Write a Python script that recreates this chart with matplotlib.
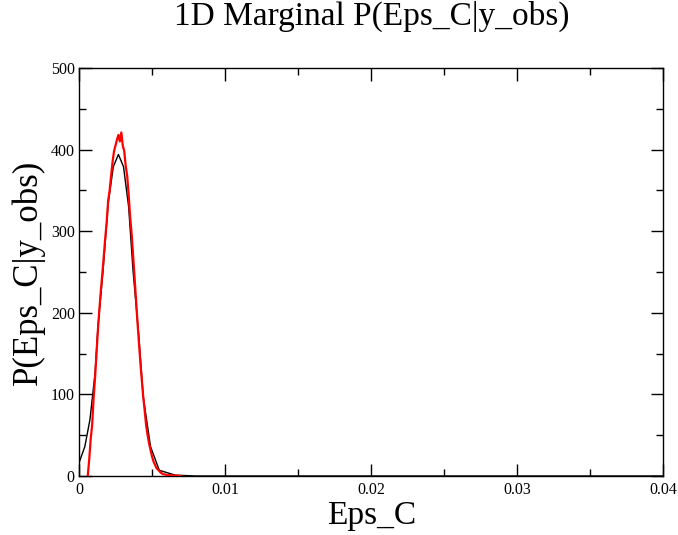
import matplotlib
matplotlib.use("Agg")
import matplotlib.pyplot as plt
from matplotlib.ticker import MultipleLocator

plt.rcParams['font.family'] = ['Liberation Serif', 'DejaVu Serif']

# sampled marginal (red histogram)
x_red = [0.0006, 0.0007, 0.0008, 0.0009, 0.0010, 0.0011, 0.0012, 0.0013, 0.0014,
         0.0015, 0.0016, 0.0017, 0.0018, 0.0019, 0.0020, 0.0021, 0.0022, 0.0023,
         0.0024, 0.0025, 0.0026, 0.0027, 0.0028, 0.0029, 0.0030, 0.0031, 0.0032,
         0.0033, 0.0034, 0.0035, 0.0036, 0.0037, 0.0038, 0.0039, 0.0040, 0.0041,
         0.0042, 0.0043, 0.0044, 0.0045, 0.0046, 0.0047, 0.0048, 0.0049, 0.0050,
         0.0051, 0.0052, 0.0053, 0.0054, 0.0055, 0.0056, 0.0057, 0.0058, 0.0059,
         0.0060, 0.0062, 0.0065, 0.0070]
y_red = [0, 20, 45, 62, 95, 120, 150, 180, 205,
         228, 248, 270, 292, 312, 338, 350, 368, 385,
         398, 405, 412, 418, 410, 421, 405, 398, 380,
         368, 345, 318, 298, 272, 245, 218, 190, 165,
         140, 118, 97, 80, 62, 50, 40, 32, 24,
         18, 14, 10, 8, 6, 4, 3, 2, 2,
         1, 1, 0.5, 0]

# smooth fit (black)
x_fit = [0.0, 0.0004, 0.00075, 0.0011, 0.0013, 0.00165, 0.0020, 0.00235, 0.0027,
         0.00305, 0.0034, 0.0037, 0.0041, 0.0044, 0.0049, 0.0055, 0.0066, 0.008, 0.04]
y_fit = [16, 36, 69, 126, 183, 252, 334, 379, 394,
         379, 330, 252, 171, 97, 36, 7, 1, 0, 0]

x_ticks = [0, 0.01, 0.02, 0.03, 0.04]
x_ticklabels = ['0', '0.01', '0.02', '0.03', '0.04']

fig = plt.figure(figsize=(6.78, 5.35), dpi=100)
ax = fig.add_axes([0.1165, 0.1103, 0.8614, 0.7626])

ax.plot(x_fit, y_fit, color='black', lw=1.0, zorder=2)
ax.plot(x_red, y_red, color='red', lw=1.6, zorder=3)

ax.set_xlim(0, 0.04)
ax.set_ylim(0, 500)
ax.set_xticks(x_ticks)
ax.set_xticklabels(x_ticklabels)
ax.xaxis.set_minor_locator(MultipleLocator(0.005))
ax.yaxis.set_major_locator(MultipleLocator(100))
ax.yaxis.set_minor_locator(MultipleLocator(50))

ax.tick_params(which='both', direction='in', top=True, right=True, labelsize=11.5, width=1)
ax.tick_params(which='major', length=9)
ax.tick_params(which='minor', length=5)
ax.tick_params(axis='x', pad=4)
ax.tick_params(axis='y', pad=3)
for s in ax.spines.values():
    s.set_linewidth(1.0)

fig.text(0.549, 0.953, '1D Marginal P(Eps_C|y_obs)', ha='center', va='baseline', fontsize=24)
fig.text(0.548, 0.021, 'Eps_C', ha='center', va='baseline', fontsize=24)
fig.text(0.041, 0.491, 'P(Eps_C|y_obs)', ha='center', va='center', rotation=90, fontsize=25)

fig.savefig('out.png', dpi=100)
